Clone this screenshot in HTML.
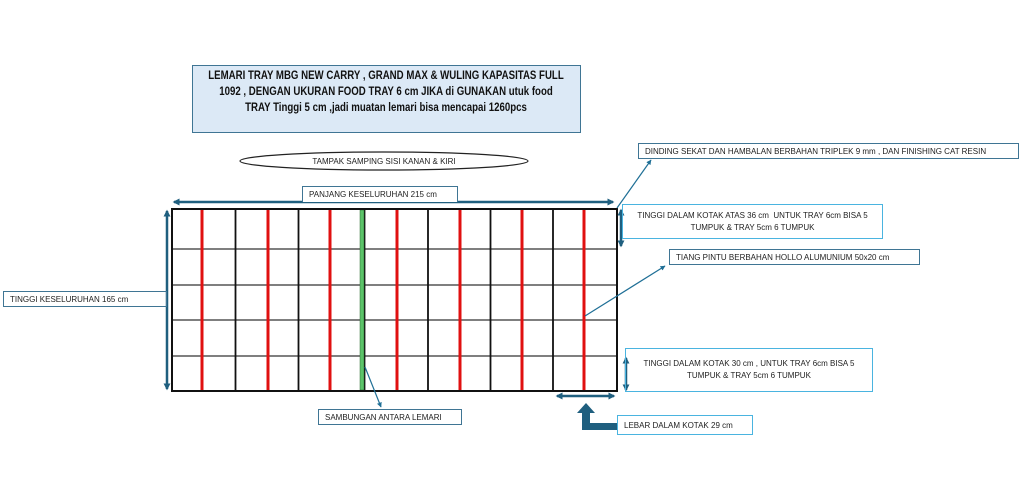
<!DOCTYPE html>
<html><head><meta charset="utf-8"><style>
html,body{margin:0;padding:0;background:#fff;}
body{width:1024px;height:486px;overflow:hidden;position:relative;font-family:"Liberation Sans",sans-serif;}
.b{position:absolute;box-sizing:border-box;font-size:8px;color:#222;display:flex;align-items:center;}
.t{position:absolute;left:0;width:386px;height:15px;white-space:nowrap;font-weight:bold;font-size:11.5px;color:#111;}
.t span{position:absolute;left:50%;top:0;transform:translateX(-50%) scaleX(0.84);}
</style></head><body>
<svg width="1024" height="486" style="position:absolute;left:0;top:0">
<defs>
<marker id="a" markerUnits="userSpaceOnUse" viewBox="0 0 10 10" refX="8" refY="5" markerWidth="7" markerHeight="7" orient="auto-start-reverse"><path d="M0,0L10,5L0,10z" fill="#1f5f7f"/></marker>
<marker id="s" markerUnits="userSpaceOnUse" viewBox="0 0 10 10" refX="9" refY="5" markerWidth="5" markerHeight="5" orient="auto-start-reverse"><path d="M0,0L10,5L0,10z" fill="#1f6f96"/></marker>
</defs>
<g stroke="#333" stroke-width="1.3">
<line x1="172" y1="249" x2="617" y2="249"/>
<line x1="172" y1="285" x2="617" y2="285"/>
<line x1="172" y1="320" x2="617" y2="320"/>
<line x1="172" y1="356" x2="617" y2="356"/>
</g>
<g stroke="#111" stroke-width="1.8">
<line x1="235.5" y1="209" x2="235.5" y2="391"/>
<line x1="298.5" y1="209" x2="298.5" y2="391"/>
<line x1="364.5" y1="209" x2="364.5" y2="391"/>
<line x1="428" y1="209" x2="428" y2="391"/>
<line x1="490.5" y1="209" x2="490.5" y2="391"/>
<line x1="553" y1="209" x2="553" y2="391"/>
</g>
<g stroke="#e01010" stroke-width="3">
<line x1="202" y1="210" x2="202" y2="390"/>
<line x1="268" y1="210" x2="268" y2="390"/>
<line x1="330" y1="210" x2="330" y2="390"/>
<line x1="397" y1="210" x2="397" y2="390"/>
<line x1="460" y1="210" x2="460" y2="390"/>
<line x1="522" y1="210" x2="522" y2="390"/>
<line x1="584" y1="210" x2="584" y2="390"/>
</g>
<rect x="360" y="210" width="4" height="180" fill="#5cc46a" stroke="#2a6a30" stroke-width="0.5"/>
<rect x="172" y="209" width="445" height="182" fill="none" stroke="#111" stroke-width="2"/>
<g stroke="#1f5f7f" stroke-width="2.5" fill="none">
<line x1="174" y1="202" x2="613" y2="202" marker-start="url(#a)" marker-end="url(#a)"/>
<line x1="167" y1="211" x2="167" y2="389" marker-start="url(#a)" marker-end="url(#a)"/>
<line x1="621" y1="210" x2="621" y2="246" marker-start="url(#a)" marker-end="url(#a)"/>
<line x1="626" y1="358" x2="626" y2="390" marker-start="url(#a)" marker-end="url(#a)"/>
<line x1="557" y1="396" x2="614" y2="396" marker-start="url(#a)" marker-end="url(#a)"/>
</g>
<g stroke="#1f6f96" stroke-width="1.2" fill="none">
<line x1="617" y1="208" x2="651" y2="160" marker-end="url(#s)"/>
<line x1="585" y1="316" x2="665" y2="266" marker-end="url(#s)"/>
<line x1="365" y1="367" x2="381" y2="407" marker-end="url(#s)"/>
</g>
<path d="M582,430 L582,413 L577,413 L586,403 L595,413 L590,413 L590,423 L617,423 L617,430 Z" fill="#1f5f7f"/>
<ellipse cx="384" cy="161" rx="144" ry="9" fill="#fff" stroke="#222" stroke-width="1.2"/>
<text x="384" y="164" font-size="8" text-anchor="middle" fill="#222" font-family="Liberation Sans">TAMPAK SAMPING SISI KANAN &amp; KIRI</text>
</svg>
<div class="b" style="left:192px;top:65px;width:389px;height:68px;background:#dce9f6;border:1.5px solid #3f7594;">
<div class="t" style="top:4px"><span>LEMARI TRAY MBG NEW CARRY , GRAND MAX &amp; WULING KAPASITAS FULL</span></div>
<div class="t" style="top:20px"><span>1092 , DENGAN UKURAN FOOD TRAY 6 cm JIKA di GUNAKAN utuk food</span></div>
<div class="t" style="top:36px"><span>TRAY Tinggi 5 cm ,jadi muatan lemari bisa mencapai 1260pcs</span></div>
</div>
<div class="b" style="left:302px;top:186px;width:156px;height:16px;border:1.5px solid #3f7594;border-bottom:none;background:#fff;padding-left:6px">PANJANG KESELURUHAN 215 cm</div>
<div class="b" style="left:3px;top:291px;width:164px;height:16px;border:1.5px solid #3f7594;padding-left:6px">TINGGI KESELURUHAN 165 cm</div>
<div class="b" style="left:318px;top:409px;width:144px;height:16px;border:1.5px solid #3f7594;padding-left:6px">SAMBUNGAN ANTARA LEMARI</div>
<div class="b" style="left:638px;top:143px;width:381px;height:16px;border:1.5px solid #3f7594;padding-left:6px">DINDING SEKAT DAN HAMBALAN BERBAHAN TRIPLEK 9 mm , DAN FINISHING CAT RESIN</div>
<div class="b" style="left:622px;top:204px;width:261px;height:35px;border:1.5px solid #4ab4e0;justify-content:center;text-align:center;line-height:12px">TINGGI DALAM KOTAK ATAS 36 cm&nbsp; UNTUK TRAY 6cm BISA 5<br>TUMPUK &amp; TRAY 5cm 6 TUMPUK</div>
<div class="b" style="left:669px;top:249px;width:251px;height:16px;border:1.5px solid #3f7594;padding-left:6px">TIANG PINTU BERBAHAN HOLLO ALUMUNIUM 50x20 cm</div>
<div class="b" style="left:625px;top:348px;width:248px;height:44px;border:1.5px solid #4ab4e0;justify-content:center;text-align:center;line-height:12px">TINGGI DALAM KOTAK 30 cm , UNTUK TRAY 6cm BISA 5<br>TUMPUK &amp; TRAY 5cm 6 TUMPUK</div>
<div class="b" style="left:617px;top:415px;width:136px;height:20px;border:1.5px solid #4ab4e0;padding-left:6px">LEBAR DALAM KOTAK 29 cm</div>
</body></html>
